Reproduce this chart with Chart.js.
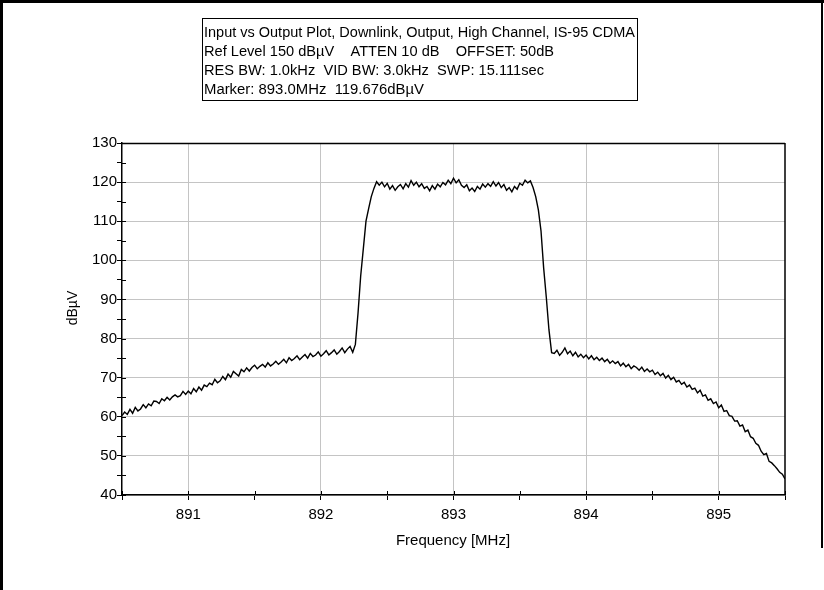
<!DOCTYPE html>
<html><head><meta charset="utf-8">
<script src="https://cdn.jsdelivr.net/npm/chart.js@4.4.0/dist/chart.umd.min.js"></script>
<style>html,body{margin:0;padding:0;background:#fff;}#wrap{position:relative;width:824px;height:590px;}</style>
</head><body><div id="wrap"><canvas id="c" width="824" height="590"></canvas></div>
<script>
const freqMHz = [
890.50,890.52,890.54,890.56,890.58,890.60,890.62,890.64,890.66,890.68,
890.70,890.72,890.74,890.76,890.78,890.80,890.82,890.84,890.86,890.88,
890.90,890.92,890.94,890.96,890.98,891.00,891.02,891.04,891.06,891.08,
891.10,891.12,891.14,891.16,891.18,891.20,891.22,891.24,891.26,891.28,
891.30,891.32,891.34,891.36,891.38,891.40,891.42,891.44,891.46,891.48,
891.50,891.52,891.54,891.56,891.58,891.60,891.62,891.64,891.66,891.68,
891.70,891.72,891.74,891.76,891.78,891.80,891.82,891.84,891.86,891.88,
891.90,891.92,891.94,891.96,891.98,892.00,892.02,892.04,892.06,892.08,
892.10,892.12,892.14,892.16,892.18,892.20,892.22,892.24,892.26,892.28,
892.30,892.32,892.34,892.36,892.38,892.40,892.42,892.44,892.46,892.48,
892.50,892.52,892.54,892.56,892.58,892.60,892.62,892.64,892.66,892.68,
892.70,892.72,892.74,892.76,892.78,892.80,892.82,892.84,892.86,892.88,
892.90,892.92,892.94,892.96,892.98,893.00,893.02,893.04,893.06,893.08,
893.10,893.12,893.14,893.16,893.18,893.20,893.22,893.24,893.26,893.28,
893.30,893.32,893.34,893.36,893.38,893.40,893.42,893.44,893.46,893.48,
893.50,893.52,893.54,893.56,893.58,893.60,893.62,893.64,893.66,893.68,
893.70,893.72,893.74,893.76,893.78,893.80,893.82,893.84,893.86,893.88,
893.90,893.92,893.94,893.96,893.98,894.00,894.02,894.04,894.06,894.08,
894.10,894.12,894.14,894.16,894.18,894.20,894.22,894.24,894.26,894.28,
894.30,894.32,894.34,894.36,894.38,894.40,894.42,894.44,894.46,894.48,
894.50,894.52,894.54,894.56,894.58,894.60,894.62,894.64,894.66,894.68,
894.70,894.72,894.74,894.76,894.78,894.80,894.82,894.84,894.86,894.88,
894.90,894.92,894.94,894.96,894.98,895.00,895.02,895.04,895.06,895.08,
895.10,895.12,895.14,895.16,895.18,895.20,895.22,895.24,895.26,895.28,
895.30,895.32,895.34,895.36,895.38,895.40,895.42,895.44,895.46,895.48,
895.50];
const levelDbuV = [
60.3,61.2,60.6,61.9,60.9,62.4,61.5,62.0,63.1,62.3,
63.3,62.8,64.0,63.9,63.4,64.6,64.1,65.0,64.3,65.1,
65.6,65.1,65.4,66.5,65.7,66.6,65.9,67.2,66.4,67.6,
66.8,68.1,67.7,68.6,68.2,69.6,68.7,69.2,70.3,69.5,
70.9,70.1,71.6,71.0,70.4,72.1,71.5,72.5,71.7,72.6,
73.2,72.3,72.9,73.4,72.7,73.8,73.0,73.5,74.2,73.4,
74.0,74.7,73.8,75.1,74.4,74.9,75.6,74.6,75.3,75.9,
75.0,76.2,75.4,75.8,76.6,75.5,76.1,76.9,75.8,76.4,
77.1,76.0,76.7,77.6,76.4,77.3,78.0,76.5,78.5,86.5,
96.0,103.0,110.0,113.2,116.3,118.4,120.1,119.2,120.0,118.8,
119.7,118.2,119.1,117.9,118.8,119.4,118.3,119.6,118.7,120.4,
119.2,120.0,118.8,119.6,118.4,118.9,117.8,119.1,118.2,119.5,
118.8,119.9,119.3,120.5,119.6,121.0,119.8,120.6,119.2,118.6,
119.3,117.8,118.5,117.6,118.9,118.2,119.5,118.7,119.6,118.9,
120.1,119.0,119.9,118.6,119.4,117.9,118.6,117.5,118.9,118.2,
119.7,119.2,120.5,119.8,120.3,118.6,116.3,112.9,107.5,98.0,
90.5,82.2,76.4,76.2,77.0,75.7,76.5,77.6,76.1,76.8,
75.6,76.5,75.3,76.0,75.1,75.8,74.8,75.6,74.6,75.2,
74.4,75.0,74.1,74.7,73.7,74.3,73.6,74.1,73.0,73.7,
72.8,73.4,72.3,73.0,72.6,71.9,72.7,71.6,72.2,71.5,
71.9,70.8,71.4,70.5,71.1,69.9,70.6,69.5,70.1,68.9,
69.3,68.3,68.8,67.6,68.1,67.0,67.3,66.1,66.8,65.3,
65.6,64.2,64.6,63.4,63.8,62.3,63.0,61.4,61.6,60.3,
60.1,58.9,59.0,57.6,57.9,56.2,56.6,54.9,54.5,53.2,
52.7,51.2,50.3,50.6,48.6,48.2,47.5,46.7,45.8,45.3,
44.1];
const xTickLabels = [891, 892, 893, 894, 895];
const yTickLabels = [40, 50, 60, 70, 80, 90, 100, 110, 120, 130];
const infoLines = [
  'Input vs Output Plot, Downlink, Output, High Channel, IS-95 CDMA',
  'Ref Level 150 dBµV    ATTEN 10 dB    OFFSET: 50dB',
  'RES BW: 1.0kHz  VID BW: 3.0kHz  SWP: 15.111sec',
  'Marker: 893.0MHz  119.676dBµV'
];
const xTitle = 'Frequency [MHz]';
const yTitle = 'dBµV';

const FONT = '"Liberation Sans", Arial, sans-serif';

const decor = {
  id: 'decor',
  afterDraw(chart) {
    const ctx = chart.ctx;
    const a = chart.chartArea;
    ctx.save();
    ctx.strokeStyle = '#000';
    ctx.lineWidth = 1.5;
    ctx.beginPath();
    ctx.moveTo(a.left, a.top + 0.5); ctx.lineTo(a.right, a.top + 0.5);
    ctx.moveTo(a.right, a.top); ctx.lineTo(a.right, a.bottom);
    ctx.stroke();
    ctx.lineWidth = 1;
    ctx.beginPath();
    chart.scales.y.ticks.forEach(t => {
      const py = Math.round(chart.scales.y.getPixelForValue(t.value)) + 0.5;
      ctx.moveTo(a.left, py); ctx.lineTo(a.left + 4, py);
    });
    chart.scales.x.ticks.forEach(t => {
      const px = Math.round(chart.scales.x.getPixelForValue(t.value)) + 0.5;
      ctx.moveTo(px, a.bottom); ctx.lineTo(px, a.bottom - 4);
    });
    ctx.stroke();
    ctx.lineWidth = 1;
    ctx.strokeRect(202.5, 18.5, 435, 82);
    ctx.fillStyle = '#000';
    ctx.textBaseline = 'middle';
    ctx.textAlign = 'left';
    ctx.font = '14px ' + FONT;
    const ends = [635, 554, 544, 424];
    const ys = [33, 52, 71, 90];
    infoLines.forEach((s, i) => {
      const w = ctx.measureText(s).width;
      const target = ends[i] - 204;
      ctx.save();
      ctx.translate(204, ys[i]);
      ctx.scale(target / w, 1);
      ctx.fillText(s, 0, 0);
      ctx.restore();
    });
    ctx.font = '15px ' + FONT;
    ctx.textAlign = 'center';
    ctx.fillText(xTitle, 453, 541);
    ctx.save();
    ctx.translate(73, 308);
    ctx.rotate(-Math.PI / 2);
    ctx.font = '14px ' + FONT;
    ctx.fillText(yTitle, 0, 0);
    ctx.restore();
    ctx.fillStyle = '#000';
    ctx.fillRect(0, 0, 824, 3);
    ctx.fillRect(0, 0, 3, 590);
    ctx.fillRect(821, 0, 2, 548);
    ctx.restore();
  }
};

new Chart(document.getElementById('c'), {
  type: 'line',
  data: {
    datasets: [{
      data: freqMHz.map((f, i) => ({ x: f, y: levelDbuV[i] })),
      borderColor: '#000',
      borderWidth: 1.4,
      pointRadius: 0,
      tension: 0,
      fill: false
    }]
  },
  options: {
    responsive: false,
    animation: false,
    devicePixelRatio: 1,
    layout: { padding: { top: 143, right: 39, bottom: 0, left: 0 } },
    plugins: { legend: { display: false }, tooltip: { enabled: false } },
    scales: {
      x: {
        type: 'linear', min: 890.5, max: 895.5,
        ticks: {
          stepSize: 0.5, autoSkip: false, maxRotation: 0, minRotation: 0,
          callback: v => xTickLabels.includes(v) ? String(v) : '',
          font: { family: FONT, size: 15 }, color: '#000', padding: 6
        },
        grid: {
          color: c => (c.tick && xTickLabels.includes(c.tick.value)) ? '#c4c4c4' : 'rgba(0,0,0,0)',
          tickColor: '#000', tickLength: 5, lineWidth: 1
        },
        border: { color: '#000', width: 1.5 },
        afterFit(s) { s.height = 95; }
      },
      y: {
        min: 40, max: 130,
        ticks: {
          stepSize: 5, autoSkip: false,
          callback: v => yTickLabels.includes(v) ? String(v) : '',
          font: { family: FONT, size: 15 }, color: '#000', padding: 0
        },
        grid: {
          color: c => (c.tick && yTickLabels.includes(c.tick.value)) ? '#c4c4c4' : 'rgba(0,0,0,0)',
          tickColor: '#000', tickLength: 5, lineWidth: 1
        },
        border: { color: '#000', width: 1.5 },
        afterFit(s) { s.width = 122; }
      }
    }
  },
  plugins: [decor]
});
</script>
</body></html>
